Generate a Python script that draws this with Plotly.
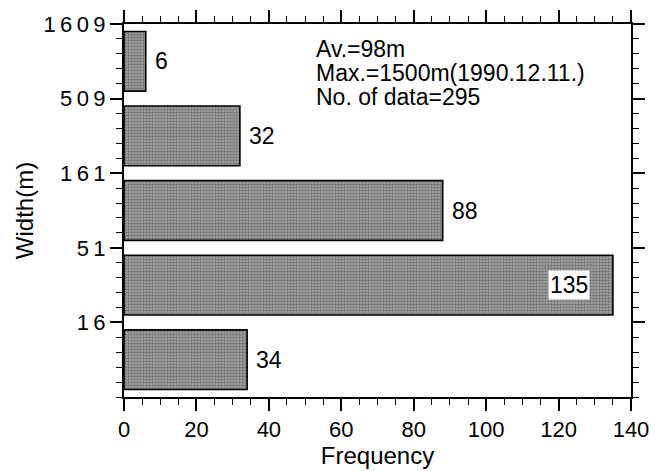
import plotly.graph_objects as go

# Data
bin_index = [0, 1, 2, 3, 4]              # width classes, bottom to top
frequency = [34, 135, 88, 32, 6]
boundary_pos = [1, 2, 3, 4, 5]
boundary_labels = ["1\u20096", "5\u20091", "1\u20096\u20091", "5\u20090\u20099", "1\u20096\u20090\u20099"]
info_lines = ["Av.=98m", "Max.=1500m(1990.12.11.)", "No. of data=295"]

FONT = "Liberation Sans, Arial, Helvetica, sans-serif"
XR = [0, 140]
YR = [0, 5]

fig = go.Figure()
fig.add_trace(go.Bar(
    x=frequency,
    y=[i + 0.5 for i in bin_index],
    orientation="h",
    width=0.8,
    marker=dict(
        color="#8c8c8c",
        line=dict(color="black", width=1.6),
        pattern=dict(shape=".", fgcolor="#3c3c3c", bgcolor="#a8a8a8", size=3, solidity=0.5),
    ),
    hoverinfo="skip",
))
# invisible trace to carry the mirrored (top/right) axes with minor ticks
fig.add_trace(go.Scatter(x=XR, y=YR, xaxis="x2", yaxis="y2", mode="markers",
                         marker=dict(opacity=0), hoverinfo="skip", showlegend=False))

# value labels
for i, v in zip(bin_index, frequency):
    if v == max(frequency):
        fig.add_annotation(x=v, y=i + 0.5, text=str(v), showarrow=False,
                           xanchor="right", xshift=-23, bgcolor="white", borderpad=1,
                           font=dict(family=FONT, size=23, color="black"))
    else:
        fig.add_annotation(x=v, y=i + 0.5, text=str(v), showarrow=False,
                           xanchor="left", xshift=7,
                           font=dict(family=FONT, size=23, color="black"))

# info text
for k, line in enumerate(info_lines):
    fig.add_annotation(x=0.374, xref="paper", y=0.934 - k * 0.065, yref="paper",
                       text=line, showarrow=False, xanchor="left", yanchor="middle",
                       font=dict(family=FONT, size=23, color="black"))

common = dict(ticks="outside", tickcolor="black", showline=True, linecolor="black",
              linewidth=2, showgrid=False, zeroline=False)

fig.update_layout(
    width=661, height=471,
    margin=dict(l=124, r=27, t=21, b=71),
    paper_bgcolor="white", plot_bgcolor="white",
    showlegend=False,
    font=dict(family=FONT, color="black"),
    xaxis=dict(
        range=XR, dtick=20, tick0=0, ticklen=12, tickwidth=1.6,
        minor=dict(dtick=5, ticks="outside", ticklen=6, tickwidth=1.3, tickcolor="black", showgrid=False),
        tickfont=dict(family=FONT, size=22),
        title=dict(text="Width(m)" if False else "Frequency", font=dict(family=FONT, size=24), standoff=0),
        **common,
    ),
    yaxis=dict(
        range=YR, tickmode="array", tickvals=boundary_pos, ticktext=boundary_labels,
        ticklen=12, tickwidth=1.6,
        minor=dict(tickmode="linear", tick0=0, dtick=0.2, ticks="outside", ticklen=6, tickwidth=1.3,
                   tickcolor="black", showgrid=False),
        tickfont=dict(family=FONT, size=22),
        title=dict(text="Width(m)", font=dict(family=FONT, size=24), standoff=3),
        **common,
    ),
    xaxis2=dict(
        range=XR, dtick=20, tick0=0, ticklen=12, tickwidth=1.6, side="top", overlaying="x",
        showticklabels=False,
        minor=dict(dtick=5, ticks="outside", ticklen=6, tickwidth=1.3, tickcolor="black", showgrid=False),
        **common,
    ),
    yaxis2=dict(
        range=YR, tickmode="array", tickvals=boundary_pos, ticklen=12, tickwidth=1.6,
        side="right", overlaying="y", showticklabels=False,
        minor=dict(tickmode="linear", tick0=0, dtick=0.2, ticks="outside", ticklen=6, tickwidth=1.3,
                   tickcolor="black", showgrid=False),
        **common,
    ),
)

fig.write_html("out.html")
